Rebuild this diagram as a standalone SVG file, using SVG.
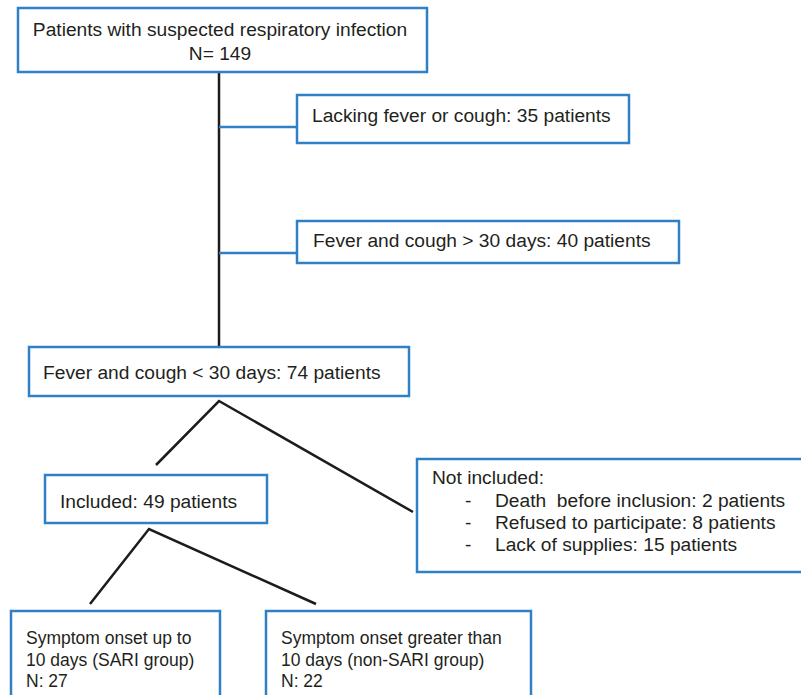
<svg xmlns="http://www.w3.org/2000/svg" width="801" height="695" viewBox="0 0 801 695">
<style>
.box{fill:#ffffff;stroke:#2f80c6;stroke-width:2.5}
.t{font-family:"Liberation Sans",Arial,sans-serif;font-size:19.2px;fill:#231f20}
.s{font-family:"Liberation Sans",Arial,sans-serif;font-size:17.5px;fill:#231f20}
.k{stroke:#1c1c1c;stroke-width:2.5;fill:none}
.b{stroke:#2f80c6;stroke-width:2.5;fill:none}
</style>
<rect width="801" height="695" fill="#ffffff"/>
<g id="connectors">
<line class="k" x1="219" y1="72" x2="219" y2="348"/>
<line class="b" x1="219" y1="127" x2="297" y2="127"/>
<line class="b" x1="219" y1="253" x2="297" y2="253"/>
<polyline class="k" points="156,465 219,401 413,512"/>
<polyline class="k" points="90,604 149,529 316,604"/>
</g>
<g id="n1">
<rect class="box" x="18" y="8" width="409" height="64"/>
<text class="t" x="220" y="36" text-anchor="middle">Patients with suspected respiratory infection</text>
<text class="t" x="220" y="60" text-anchor="middle">N= 149</text>
</g>
<g id="n2">
<rect class="box" x="297" y="95" width="332" height="48"/>
<text class="t" x="312" y="122">Lacking fever or cough: 35 patients</text>
</g>
<g id="n3">
<rect class="box" x="297" y="221" width="382" height="42"/>
<text class="t" x="313" y="247">Fever and cough &gt; 30 days: 40 patients</text>
</g>
<g id="n4">
<rect class="box" x="29" y="347" width="380" height="49"/>
<text class="t" x="43" y="379">Fever and cough &lt; 30 days: 74 patients</text>
</g>
<g id="n5">
<rect class="box" x="45" y="475" width="222" height="48"/>
<text class="t" x="60" y="508">Included: 49 patients</text>
</g>
<g id="n6">
<rect class="box" x="417" y="459" width="400" height="113"/>
<text class="t" x="432" y="484">Not included:</text>
<text class="t" x="465" y="507">-</text>
<text class="t" x="495" y="507" style="white-space:pre">Death  before inclusion: 2 patients</text>
<text class="t" x="465" y="529">-</text>
<text class="t" x="495" y="529">Refused to participate: 8 patients</text>
<text class="t" x="465" y="551">-</text>
<text class="t" x="495" y="551">Lack of supplies: 15 patients</text>
</g>
<g id="n7">
<rect class="box" x="11" y="611" width="209" height="100"/>
<text class="s" x="26" y="644">Symptom onset up to</text>
<text class="s" x="26" y="666">10 days (SARI group)</text>
<text class="s" x="26" y="687">N: 27</text>
</g>
<g id="n8">
<rect class="box" x="266" y="611" width="265" height="100"/>
<text class="s" x="281" y="644">Symptom onset greater than</text>
<text class="s" x="281" y="666">10 days (non-SARI group)</text>
<text class="s" x="281" y="687">N: 22</text>
</g>
</svg>
